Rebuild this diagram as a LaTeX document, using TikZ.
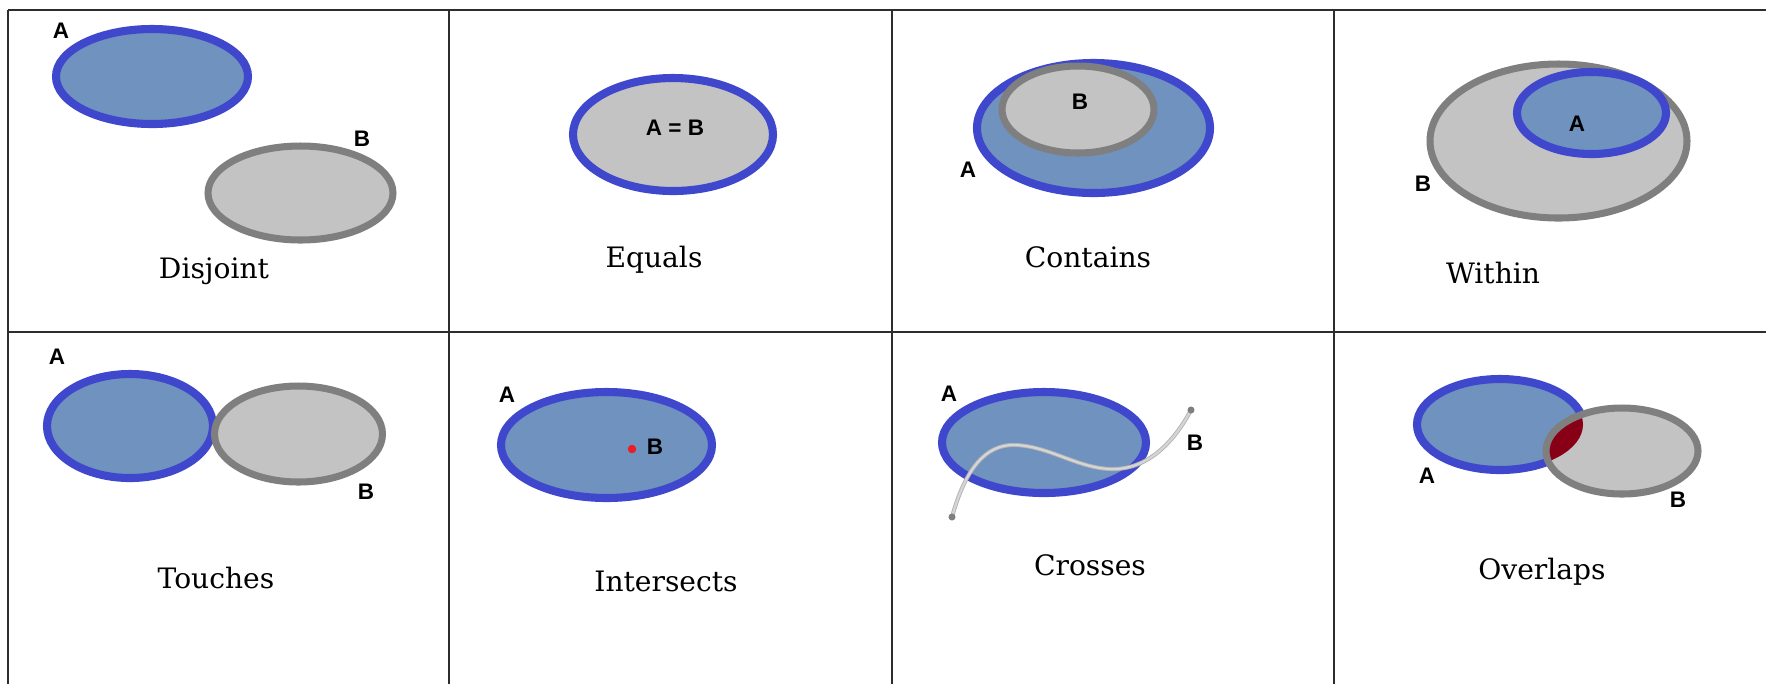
\documentclass[tikz,border=0pt]{standalone}
\usepackage{fontspec}
\setmainfont{DejaVu Serif}
\newfontfamily\lblfont{Liberation Sans}
\definecolor{setA}{RGB}{63,72,204}
\definecolor{setAfill}{RGB}{112,146,190}
\definecolor{setB}{RGB}{127,127,127}
\definecolor{setBfill}{RGB}{195,195,195}
\definecolor{hitred}{RGB}{136,0,21}
\definecolor{ptred}{RGB}{237,28,36}
\definecolor{gridline}{RGB}{45,45,45}

\begin{document}
\begin{tikzpicture}[x=0.01cm, y=-0.01cm,
    regA/.style={fill=setAfill, draw=setA, line width=2.3pt},
    regB/.style={fill=setBfill, draw=setB, line width=2pt},
    setlbl/.style={font=\lblfont\bfseries\fontsize{6.4}{7}\selectfont, inner sep=0pt},
    relname/.style={font=\fontsize{8}{10}\selectfont, anchor=base, inner sep=0pt}]
    % One unit = one pixel of the 1766 x 684 sheet, y pointing down
    \useasboundingbox (0,0) rectangle (1766,684);

    % Table rules
    \draw[gridline, line width=0.6pt] (8,10) -- (1766,10);
    \draw[gridline, line width=0.6pt] (8,332) -- (1766,332);
    \foreach \gx in {8,449,892,1334}
        \draw[gridline, line width=0.6pt] (\gx,10) -- (\gx,684);

    % Disjoint
    \filldraw[regA] (152,76.5) ellipse (96 and 47.5);
    \filldraw[regB] (300.5,193) ellipse (92.5 and 47);
    \node[setlbl] (djA) at (61,31) {A};
    \node[setlbl] (djB) at (362,139) {B};
    \node[relname] (dj) at (214,278) {Disjoint};

    % Equals
    \filldraw[regA, fill=setBfill] (673,134.5) ellipse (100 and 56.5);
    \node[setlbl] (eqAB) at (675,128) {A = B};
    \node[relname] (eq) at (654,267) {Equals};

    % Contains
    \filldraw[regA] (1093.5,128) ellipse (116.5 and 65);
    \filldraw[regB] (1078,109.5) ellipse (76 and 43.5);
    \node[setlbl] (ctB) at (1080,102) {B};
    \node[setlbl] (ctA) at (968,170) {A};
    \node[relname] (ct) at (1088,267) {Contains};

    % Within
    \filldraw[regB] (1558.5,141) ellipse (128.5 and 77);
    \filldraw[regA] (1591.5,113) ellipse (74.5 and 41);
    \node[setlbl] (wiA) at (1577,124) {A};
    \node[setlbl] (wiB) at (1423,184) {B};
    \node[relname] (wi) at (1493,283) {Within};

    % Touches
    \filldraw[regA] (130,426) ellipse (83 and 52);
    \filldraw[regB] (298.5,434) ellipse (84 and 48);
    \node[setlbl] (toA) at (57,357) {A};
    \node[setlbl] (toB) at (366,492) {B};
    \node[relname] (to) at (216,588) {Touches};

    % Intersects: B is a single point
    \filldraw[regA] (606.5,445) ellipse (105.5 and 53);
    \fill[ptred] (632,449) circle (1.2pt);
    \node[setlbl] (inA) at (507,395) {A};
    \node[setlbl] (inB) at (655,447) {B};
    \node[relname] (in) at (666,591) {Intersects};

    % Crosses: B is a line
    \filldraw[regA] (1044,442.5) ellipse (102 and 50.5);
    \coordinate (lnS) at (952,517);
    \coordinate (lnE) at (1191,410);
    \draw[setBfill!75!gray, line width=0.25pt, double=setBfill!70!white, double distance=0.65pt]
        (lnS) .. controls (965,470) and (985,444) .. (1015,445)
        .. controls (1050,446) and (1080,470) .. (1115,469)
        .. controls (1150,468) and (1175,440) .. (lnE);
    \fill[setB] (lnS) circle (1pt);
    \fill[setB] (lnE) circle (1pt);
    \node[setlbl] (crA) at (949,394) {A};
    \node[setlbl] (crB) at (1195,443) {B};
    \node[relname] (cr) at (1090,575) {Crosses};

    % Overlaps: shared part filled red
    \filldraw[regA] (1500,424.5) ellipse (83 and 45.5);
    \fill[setBfill] (1622,451) ellipse (76 and 43);
    \begin{scope}
        \clip (1500,424.5) ellipse (83 and 45.5);
        \fill[hitred] (1622,451) ellipse (76 and 43);
    \end{scope}
    \draw[regB, fill=none] (1622,451) ellipse (76 and 43);
    \node[setlbl] (ovA) at (1427,476) {A};
    \node[setlbl] (ovB) at (1678,500) {B};
    \node[relname] (ov) at (1542,579) {Overlaps};
\end{tikzpicture}
\end{document}
